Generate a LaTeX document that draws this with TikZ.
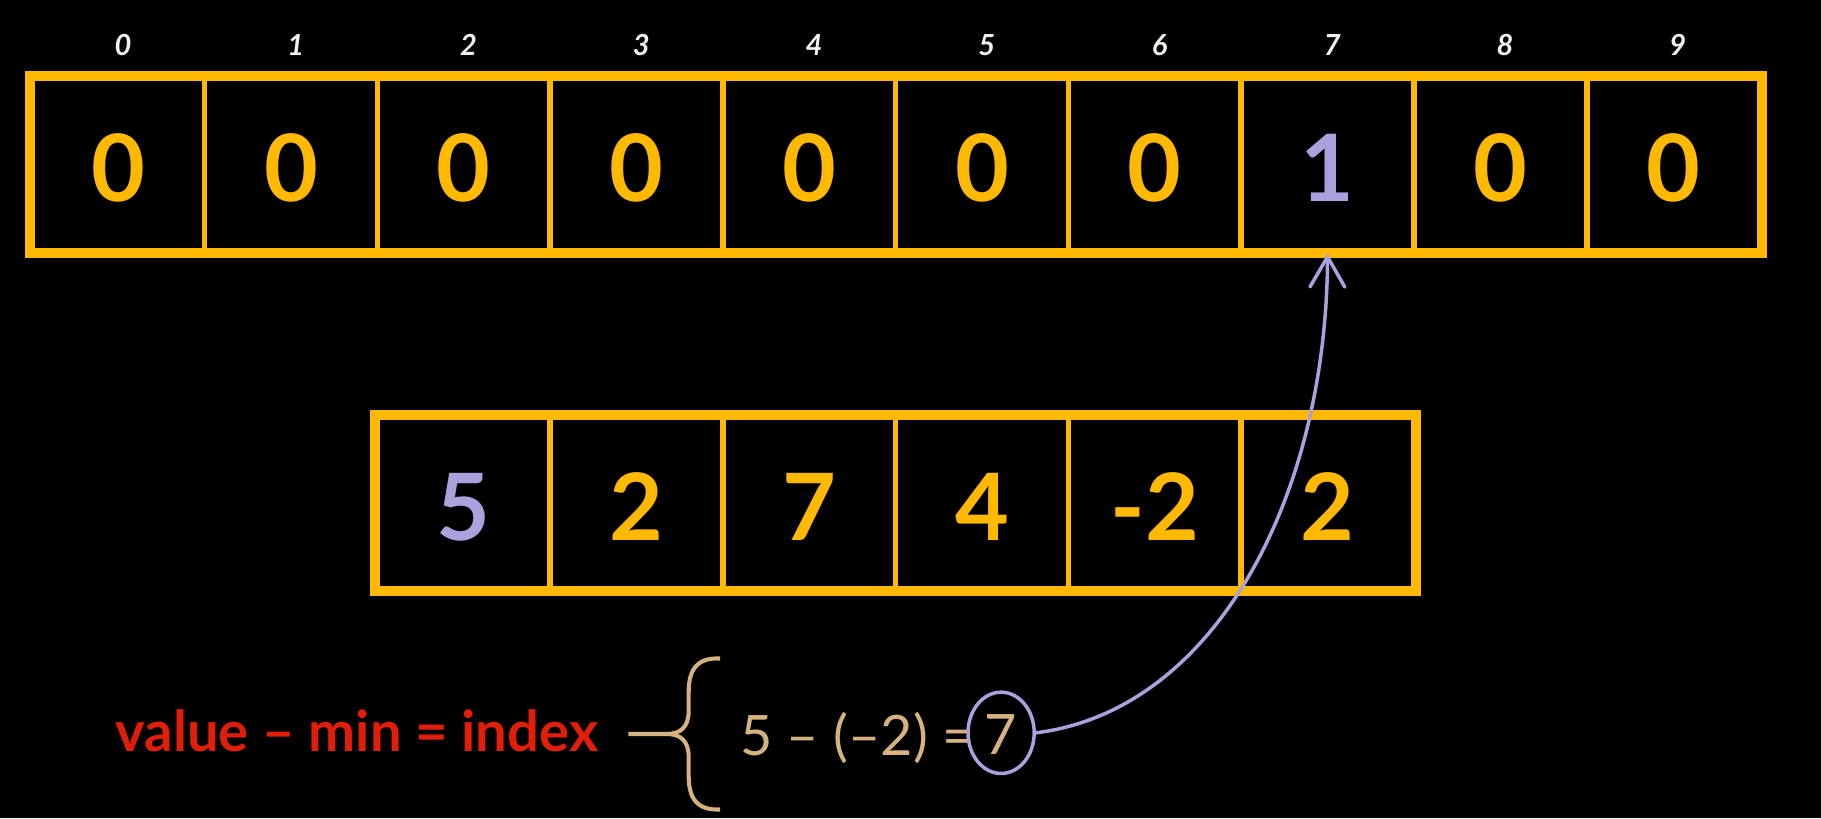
\documentclass[tikz,border=0pt]{standalone}
\usepackage{fontspec}
\setmainfont{Lato}
\usetikzlibrary{arrows.meta,shapes.geometric}
\definecolor{gold}{HTML}{FFB900}
\definecolor{lav}{HTML}{A9A2DC}
\definecolor{redt}{HTML}{E11E0A}
\definecolor{tant}{HTML}{D6B27E}
\definecolor{idxc}{HTML}{F2F0E8}
\begin{document}
\begin{tikzpicture}[x=0.5pt,y=-0.5pt,
  cell/.style={draw=gold, line width=2.4pt, minimum width=74.375pt, minimum height=74pt,
    inner sep=0pt, text height=32pt, text depth=0pt,
    font=\fontsize{40}{40}\selectfont\bfseries, text=gold},
  hot/.style={text=lav},
  idxlabel/.style={font=\fontsize{12.5}{12.5}\selectfont\bfseries\itshape, text=idxc, inner sep=0pt},
  frame/.style={draw=gold, line width=4pt},
  bracecurve/.style={draw=tant, line width=1.75pt},
  link/.style={draw=lav, line width=1.5pt}]
\fill[black] (0,0) rectangle (1568,704.35);
\useasboundingbox (0,0) rectangle (1568,704.35);
% top array
\node[cell] (t0) at (101.875,141.7) {0};
\node[cell] (t1) at (250.625,141.7) {0};
\node[cell] (t2) at (399.375,141.7) {0};
\node[cell] (t3) at (548.125,141.7) {0};
\node[cell] (t4) at (696.875,141.7) {0};
\node[cell] (t5) at (845.625,141.7) {0};
\node[cell] (t6) at (994.375,141.7) {0};
\node[cell,hot] (t7) at (1143.125,141.7) {1};
\node[cell] (t8) at (1291.875,141.7) {0};
\node[cell] (t9) at (1440.625,141.7) {0};
\draw[frame] (t0.north west) rectangle (t9.south east);
\foreach \k in {0,...,9}
  \node[idxlabel] (i\k) at ({105.9+148.75*\k},38.7) {\k};
% middle array
\node[cell,hot] (m0) at (399.375,433) {5};
\node[cell] (m1) at (548.125,433) {2};
\node[cell] (m2) at (696.875,433) {7};
\node[cell] (m3) at (845.625,433) {4};
\node[cell] (m4) at (994.375,433) {-2};
\node[cell] (m5) at (1143.125,433) {2};
\draw[frame] (m0.north west) rectangle (m5.south east);
% formula
\node[font=\fontsize{24.2}{24.2}\selectfont\bfseries, text=redt, inner sep=0pt, anchor=base]
  (formula) at (307.4,647.2) {value – min = index};
\draw[bracecurve] (620,567) .. controls (599,566) and (593,578) .. (593,596) -- (593,612)
  .. controls (593,626) and (586,632) .. (574,632) -- (541,632);
\draw[bracecurve] (620,697) .. controls (599,698) and (593,686) .. (593,668) -- (593,652)
  .. controls (593,638) and (586,632) .. (574,632);
\node[font=\fontsize{24}{24}\selectfont, text=tant, inner sep=0pt, anchor=base west]
  (calc) at (637,650.2) {5 – (–2) =};
\node[ellipse, link, minimum width=28.5pt, minimum height=35pt, inner sep=0pt,
  font=\fontsize{24}{24}\selectfont, text=tant, text height=19pt, text depth=0pt]
  (seven) at (862,631) {7};
\draw[link, -{Straight Barb[length=13pt,width=15pt,line cap=round]}]
  (seven.east) .. controls (1045,612) and (1142,430) .. (t7.south);
\end{tikzpicture}
\end{document}
